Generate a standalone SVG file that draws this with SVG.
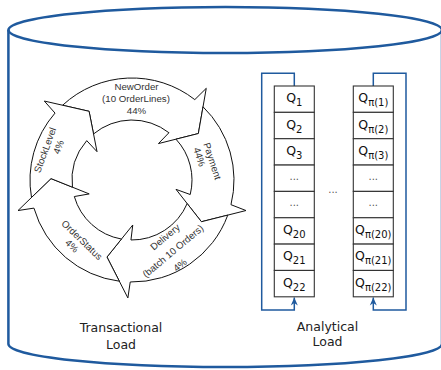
<svg xmlns="http://www.w3.org/2000/svg" width="441" height="370" viewBox="0 0 441 370">
<style>
.cyl{fill:none;stroke:#1f5a9e;stroke-width:2.5}
.seg{fill:#fff;stroke:#111;stroke-width:1;stroke-linejoin:miter}
.rt{font-family:"Liberation Sans",Arial,sans-serif;font-size:9.7px;fill:#333;text-anchor:middle}
.cell{fill:#fff;stroke:#333;stroke-width:1.1}
.q{font-family:"DejaVu Sans",sans-serif;font-size:12.5px;fill:#111;text-anchor:middle}
.sub{font-size:10px}
.dots{font-family:"DejaVu Sans",sans-serif;font-size:10px;fill:#555;text-anchor:middle}
.loop{fill:none;stroke:#1f5a9e;stroke-width:1.5;marker-end:url(#ah)}
.lbl{font-family:"DejaVu Sans",sans-serif;font-size:12.5px;fill:#222;text-anchor:middle}
</style>
<defs>
<marker id="ah" viewBox="-9 -4 10 8" refX="0" refY="0" markerWidth="10" markerHeight="8" markerUnits="userSpaceOnUse" orient="auto"><path d="M0,0 L-8,-3.5 L-5.5,0 L-8,3.5 Z" fill="#1f5a9e"/></marker>
</defs>
<g id="cylinder">
<path class="cyl" d="M8.4 30 V344 A216.8 23 0 0 0 442 344 V30"/>
<ellipse class="cyl" cx="225.2" cy="30" rx="216.8" ry="23"/>
</g>
<g id="cycle">
<g id="neworder">
<path class="seg" d="M62.61 105.24 A102 102 0 0 1 194.80 99.62 L206.26 88.30 L198.35 133.54 L158.45 143.59 L168.94 132.72 A60 60 0 0 0 93.54 133.95 L89.08 111.31 Z"/>
<text class="rt" x="136.5" y="90.4">NewOrder</text>
<text class="rt" x="136" y="102.4">(10 OrderLines)</text>
<text class="rt" x="136.5" y="114.4">44%</text>
</g>
<g id="payment">
<path class="seg" d="M203.03 106.79 A102 102 0 0 1 230.97 204.68 L245.98 210.54 L201.43 221.72 L176.02 189.36 L190.22 194.52 A60 60 0 0 0 175.97 139.18 L198.35 133.54 Z"/>
<text class="rt" transform="translate(212.5 161) rotate(72)" y="3.4">Payment</text>
<text class="rt" transform="translate(199.5 157) rotate(72)" y="3.4">44%</text>
</g>
<g id="delivery">
<path class="seg" d="M227.77 215.11 A102 102 0 0 1 130.22 281.99 L127.88 297.93 L106.97 257.04 L132.78 224.99 L130.95 239.99 A60 60 0 0 0 187.18 203.57 L201.43 221.72 Z"/>
<text class="rt" transform="translate(165 237) rotate(-40)" y="3.4">Delivery</text>
<text class="rt" transform="translate(173 251) rotate(-40)" y="3.4">(batch 10 Orders)</text>
<text class="rt" transform="translate(180 265) rotate(-40)" y="3.4">4%</text>
</g>
<g id="orderstatus">
<path class="seg" d="M119.33 281.21 A102 102 0 0 1 33.95 208.12 L18.02 210.54 L51.01 178.59 L89.20 193.91 L74.32 196.54 A60 60 0 0 0 121.45 239.06 L106.97 257.04 Z"/>
<text class="rt" transform="translate(82 240) rotate(44)" y="3.4">OrderStatus</text>
<text class="rt" transform="translate(72 246) rotate(44)" y="3.4">4%</text>
</g>
<g id="stocklevel">
<path class="seg" d="M31.51 197.48 A102 102 0 0 1 55.02 113.08 L44.31 101.04 L89.08 111.31 L97.03 151.68 L86.72 140.64 A60 60 0 0 0 72.43 187.18 L51.01 178.59 Z"/>
<text class="rt" transform="translate(45 150) rotate(-70)" y="3.4">StockLevel</text>
<text class="rt" transform="translate(58.5 147) rotate(-70)" y="3.4">4%</text>
</g>
</g>
<g id="connectors">
<path class="loop" d="M294.3 86 V73.3 H261.7 V310 H294.3 V297.5"/>
<path class="loop" d="M373.3 86 V73.3 H406 V310 H373.3 V297.5"/>
</g>
<g id="queue-ordered">
<rect class="cell" x="274.3" y="86" width="40" height="26.35"/>
<rect class="cell" x="274.3" y="112.35" width="40" height="26.35"/>
<rect class="cell" x="274.3" y="138.7" width="40" height="26.35"/>
<rect class="cell" x="274.3" y="165.05" width="40" height="26.35"/>
<rect class="cell" x="274.3" y="191.4" width="40" height="26.35"/>
<rect class="cell" x="274.3" y="217.75" width="40" height="26.35"/>
<rect class="cell" x="274.3" y="244.1" width="40" height="26.35"/>
<rect class="cell" x="274.3" y="270.45" width="40" height="26.35"/>
<text class="q" x="294.3" y="102.2">Q<tspan class="sub" dy="4">1</tspan></text>
<text class="q" x="294.3" y="128.55">Q<tspan class="sub" dy="4">2</tspan></text>
<text class="q" x="294.3" y="154.9">Q<tspan class="sub" dy="4">3</tspan></text>
<text class="dots" x="294.3" y="179.85">...</text>
<text class="dots" x="294.3" y="206.2">...</text>
<text class="q" x="294.3" y="233.95">Q<tspan class="sub" dy="4">20</tspan></text>
<text class="q" x="294.3" y="260.3">Q<tspan class="sub" dy="4">21</tspan></text>
<text class="q" x="294.3" y="286.65">Q<tspan class="sub" dy="4">22</tspan></text>
</g>
<text class="dots" x="333" y="193">...</text>
<g id="queue-permuted">
<rect class="cell" x="353.3" y="86" width="40" height="26.35"/>
<rect class="cell" x="353.3" y="112.35" width="40" height="26.35"/>
<rect class="cell" x="353.3" y="138.7" width="40" height="26.35"/>
<rect class="cell" x="353.3" y="165.05" width="40" height="26.35"/>
<rect class="cell" x="353.3" y="191.4" width="40" height="26.35"/>
<rect class="cell" x="353.3" y="217.75" width="40" height="26.35"/>
<rect class="cell" x="353.3" y="244.1" width="40" height="26.35"/>
<rect class="cell" x="353.3" y="270.45" width="40" height="26.35"/>
<text class="q" x="373.3" y="102.2">Q<tspan class="sub" dy="4">π(1)</tspan></text>
<text class="q" x="373.3" y="128.55">Q<tspan class="sub" dy="4">π(2)</tspan></text>
<text class="q" x="373.3" y="154.9">Q<tspan class="sub" dy="4">π(3)</tspan></text>
<text class="dots" x="373.3" y="179.85">...</text>
<text class="dots" x="373.3" y="206.2">...</text>
<text class="q" x="373.3" y="233.95">Q<tspan class="sub" dy="4">π(20)</tspan></text>
<text class="q" x="373.3" y="260.3">Q<tspan class="sub" dy="4">π(21)</tspan></text>
<text class="q" x="373.3" y="286.65">Q<tspan class="sub" dy="4">π(22)</tspan></text>
</g>
<g id="labels">
<text class="lbl" x="121" y="332.3">Transactional</text>
<text class="lbl" x="121" y="348.8">Load</text>
<text class="lbl" x="327.5" y="330.5">Analytical</text>
<text class="lbl" x="327.5" y="346">Load</text>
</g>
</svg>
